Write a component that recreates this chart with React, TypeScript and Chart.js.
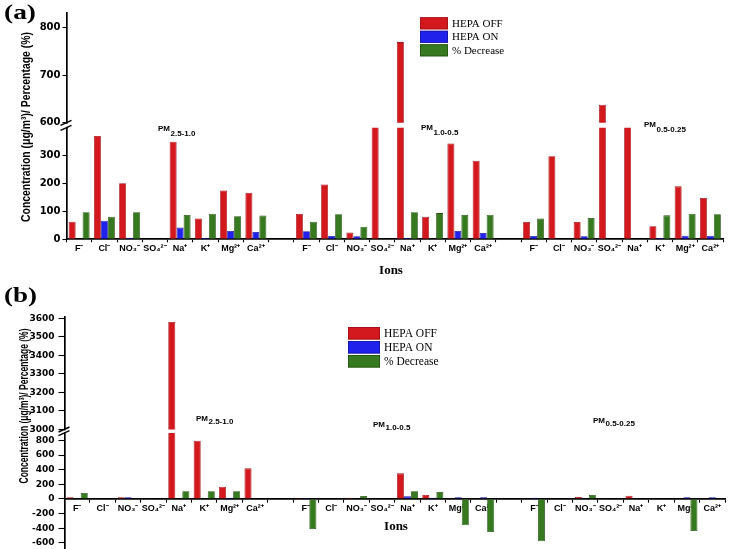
import React, { useEffect, useRef } from 'react';
import { Chart, registerables } from 'chart.js';

Chart.register(...registerables);

const SANS = "'Liberation Sans', Arial, sans-serif";
const WIDE_SANS = "'DejaVu Sans', 'Liberation Sans', sans-serif";
const SERIF = "'Liberation Serif', 'Times New Roman', serif";

// ---------- categories / labels ----------
const IONS = ['F⁻', 'Cl⁻', 'NO₃⁻', 'SO₄²⁻', 'Na⁺', 'K⁺', 'Mg²⁺', 'Ca²⁺'];
const GAP = '';
const CATEGORIES = [...IONS, GAP, ...IONS, GAP, ...IONS];
const FRACTIONS = ['2.5-1.0', '1.0-0.5', '0.5-0.25'];
const SERIES_LABELS = ['HEPA OFF', 'HEPA ON', '% Decrease'];
const SERIES_FILL = ['#D3181E', '#2121EC', '#36791E'];
const SERIES_EDGE = ['#A01016', '#16169E', '#245313'];
const Y_TITLE = 'Concentration (μg/m³)/ Percentage (%)';
const X_TITLE = 'Ions';

// ---------- panel (a) values ----------
const A_OFF_PM25_10 = [63, 371, 201, 0, 350, 75, 175, 167];
const A_OFF_PM10_05 = [91, 197, 24, 590, 769, 81, 344, 282];
const A_OFF_PM05_025 = [62, 298, 62, 638, 590, 47, 190, 148];
const A_ON_PM25_10 = [0, 67, 6, 0, 42, 5, 30, 26];
const A_ON_PM10_05 = [29, 12, 11, 0, 5, 0, 30, 23];
const A_ON_PM05_025 = [12, 0, 11, 0, 0, 5, 13, 13];
const A_DEC_PM25_10 = [97, 81, 97, 0, 87, 92, 83, 85];
const A_DEC_PM10_05 = [63, 90, 45, 0, 97, 94, 87, 88];
const A_DEC_PM05_025 = [75, 0, 77, 0, 0, 86, 92, 90];
const A_TICKS_LOW = [0, 100, 200, 300];
const A_TICKS_HIGH = [600, 700, 800];

// ---------- panel (b) values ----------
const B_OFF_PM25_10 = [23, 9, 22, 9, 3580, 795, 168, 418];
const B_OFF_PM10_05 = [14, 9, 18, 9, 350, 55, 9, 9];
const B_OFF_PM05_025 = [9, 9, 27, 9, 45, 9, 9, 9];
const B_ON_PM25_10 = [5, 5, 22, 5, 5, 5, 18, 5];
const B_ON_PM10_05 = [14, 9, 9, 9, 36, 18, 23, 23];
const B_ON_PM05_025 = [18, 9, 9, 9, 9, 9, 23, 23];
const B_DEC_PM25_10 = [82, 5, 5, 5, 105, 105, 105, 5];
const B_DEC_PM10_05 = [-409, 5, 41, 5, 105, 95, -359, -450];
const B_DEC_PM05_025 = [-577, 5, 55, 5, 5, 5, -436, 5];
const B_TICKS_LOW = [-600, -400, -200, 0, 200, 400, 600, 800];
const B_TICKS_HIGH = [3000, 3100, 3200, 3300, 3400, 3500, 3600];

const joinFractions = (a: number[], b: number[], c: number[]) => [...a, null, ...b, null, ...c];

const CANVAS_W = 733;
const CANVAS_H = 560;

const PANELS = [
  {
    tag: '(a)', tagX: 4, tagBase: 19, tagW: 32,
    series: [
      joinFractions(A_OFF_PM25_10, A_OFF_PM10_05, A_OFF_PM05_025),
      joinFractions(A_ON_PM25_10, A_ON_PM10_05, A_ON_PM05_025),
      joinFractions(A_DEC_PM25_10, A_DEC_PM10_05, A_DEC_PM05_025),
    ],
    low: { min: 0, max: 409.6, ticks: A_TICKS_LOW, weight: 114.15, brk: 400 },
    high: { min: 595.1, max: 830.6, ticks: A_TICKS_HIGH, weight: 112.45, brk: 600 },
    padding: { left: 0, right: 10, top: 12.7, bottom: CANVAS_H - 282 },
    yWidth: 66.5, xHeight: 42.7, xAtZero: false, yTickSize: 10, yTickLen: 4, yTickPad: 2,
    yTitle: { x: 27, y: 127, len: 190, size: 12 },
    xTitle: { x: 391, y: 271 },
    pm: [[158, 128.7], [421, 128.2], [644, 125.2]], pmDy: 5,
    legend: { x: 420, w: 28, tops: [17.3, 30.8, 44.3], h: 12, textX: 452, size: 11 },
  },
  {
    tag: '(b)', tagX: 4, tagBase: 302, tagW: 33,
    series: [
      joinFractions(B_OFF_PM25_10, B_OFF_PM10_05, B_OFF_PM05_025),
      joinFractions(B_ON_PM25_10, B_ON_PM10_05, B_ON_PM05_025),
      joinFractions(B_DEC_PM25_10, B_DEC_PM10_05, B_DEC_PM05_025),
    ],
    low: { min: -700, max: 922, ticks: B_TICKS_LOW, weight: 118.9, brk: 900 },
    high: { min: 2989.7, max: 3610, ticks: B_TICKS_HIGH, weight: 114.9, brk: 3000 },
    padding: { left: 0, right: 8, top: 316.5, bottom: CANVAS_H - 550.3 },
    yWidth: 64.5, xHeight: 0, xAtZero: true, yTickSize: 9, yTickLen: 6, yTickPad: 4,
    yTitle: { x: 25, y: 406, len: 155, size: 12 },
    xTitle: { x: 396, y: 527 },
    pm: [[196, 418.7], [373, 424.5], [593, 420.5]], pmDy: 3.5,
    legend: { x: 348, w: 32, tops: [327, 341, 355], h: 12.5, textX: 384, size: 11.5 },
  },
];

function drawFit(ctx: any, text: string, x: number, y: number, font: string, width: number, align: string, rotate: boolean, baseline = 'middle') {
  ctx.save();
  ctx.font = font;
  const w = ctx.measureText(text).width;
  ctx.translate(x, y);
  if (rotate) ctx.rotate(-Math.PI / 2);
  ctx.scale(width / w, 1);
  ctx.textAlign = align;
  ctx.textBaseline = baseline;
  ctx.fillStyle = '#000';
  ctx.fillText(text, 0, 0);
  ctx.restore();
}

function makeDecor(panel: any) {
  return {
    id: 'panelDecor',
    beforeDatasetDraw(chart: any, args: any) {
      const { ctx, chartArea } = chart;
      const meta = args.meta;
      const ys = chart.scales[meta.yAxisID];
      ctx.save();
      ctx.beginPath();
      if (meta.yAxisID === 'yLow') {
        const top = ys.getPixelForValue(panel.low.brk);
        ctx.rect(chartArea.left, top, chartArea.right - chartArea.left, ys.bottom - top);
      } else {
        const bottom = ys.getPixelForValue(panel.high.brk);
        ctx.rect(chartArea.left, ys.top - 1, chartArea.right - chartArea.left, bottom - ys.top + 1);
      }
      ctx.clip();
    },
    afterDatasetDraw(chart: any) {
      chart.ctx.restore();
    },
    afterDraw(chart: any) {
      const { ctx, chartArea } = chart;
      const ax = chartArea.left;
      const yHi = chart.scales.yHigh.getPixelForValue(panel.high.brk);
      const yLo = chart.scales.yLow.getPixelForValue(panel.low.brk);
      ctx.save();
      ctx.fillStyle = '#fff';
      ctx.fillRect(ax - 3, yHi + 0.9, 6, yLo - yHi - 1.8);
      ctx.strokeStyle = '#000';
      ctx.lineWidth = 1.4;
      for (const yy of [yHi, yLo]) {
        ctx.beginPath();
        ctx.moveTo(ax - 6, yy + 2.5);
        ctx.lineTo(ax + 5, yy - 2.5);
        ctx.stroke();
      }
      ctx.restore();

      // panel tag
      drawFit(ctx, panel.tag, panel.tagX, panel.tagBase, `bold 21px ${SERIF}`, panel.tagW, 'left', false, 'alphabetic');
      // y title
      drawFit(ctx, Y_TITLE, panel.yTitle.x, panel.yTitle.y, `bold ${panel.yTitle.size}px ${SANS}`, panel.yTitle.len, 'center', true);
      // x title
      ctx.save();
      ctx.font = `bold 13px ${SERIF}`;
      ctx.fillStyle = '#000';
      ctx.textAlign = 'center';
      ctx.textBaseline = 'middle';
      ctx.fillText(X_TITLE, panel.xTitle.x, panel.xTitle.y);
      ctx.restore();

      // PM labels
      ctx.save();
      ctx.fillStyle = '#000';
      ctx.textBaseline = 'middle';
      ctx.textAlign = 'left';
      panel.pm.forEach((p: number[], i: number) => {
        ctx.font = `bold 8px ${SANS}`;
        ctx.fillText('PM', p[0], p[1]);
        const w = ctx.measureText('PM').width;
        ctx.fillText(FRACTIONS[i], p[0] + w + 0.5, p[1] + panel.pmDy);
      });
      ctx.restore();

      // legend
      const lg = panel.legend;
      ctx.save();
      SERIES_LABELS.forEach((label, i) => {
        const top = lg.tops[i];
        ctx.fillStyle = SERIES_FILL[i];
        ctx.fillRect(lg.x, top, lg.w, lg.h);
        ctx.strokeStyle = SERIES_EDGE[i];
        ctx.lineWidth = 0.8;
        ctx.strokeRect(lg.x + 0.4, top + 0.4, lg.w - 0.8, lg.h - 0.8);
        ctx.fillStyle = '#000';
        ctx.font = `${lg.size}px ${SERIF}`;
        ctx.textAlign = 'left';
        ctx.textBaseline = 'middle';
        ctx.fillText(label, lg.textX, top + lg.h / 2 + 0.5);
      });
      ctx.restore();
    },
  };
}

function buildConfig(panel: any) {
  const datasets: any[] = [];
  for (const axis of ['yLow', 'yHigh']) {
    SERIES_LABELS.forEach((label, i) => {
      datasets.push({
        label,
        data: panel.series[i],
        yAxisID: axis,
        stack: 's' + i,
        backgroundColor: SERIES_FILL[i],
        borderColor: SERIES_EDGE[i],
        borderWidth: 0.8,
        barPercentage: 1,
        categoryPercentage: 0.83,
      });
    });
  }
  const grid = {
    display: true, drawOnChartArea: false, drawTicks: true,
    tickLength: panel.yTickLen, tickColor: '#000', tickWidth: 1.1,
  };
  const border = { display: true, color: '#000', width: 1.7 };
  const yTicks = {
    color: '#000', padding: panel.yTickPad, autoSkip: false,
    font: { family: WIDE_SANS, weight: 'bold', size: panel.yTickSize },
    callback: (v: any) => String(v),
  };
  const yScale = (part: any) => ({
    type: 'linear', position: 'left', stack: 'panel', stackWeight: part.weight,
    min: part.min, max: part.max, bounds: 'data', stacked: false,
    grid, border, ticks: yTicks,
    afterBuildTicks: (s: any) => { s.ticks = part.ticks.map((v: number) => ({ value: v })); },
    afterFit: (s: any) => { s.width = panel.yWidth; s.paddingTop = 0; s.paddingBottom = 0; },
  });
  return {
    type: 'bar',
    data: { labels: CATEGORIES, datasets },
    plugins: [makeDecor(panel)],
    options: {
      responsive: false,
      animation: false,
      devicePixelRatio: 1,
      events: [],
      layout: { padding: panel.padding },
      plugins: { legend: { display: false }, tooltip: { enabled: false }, title: { display: false } },
      scales: {
        x: {
          type: 'category', offset: true,
          position: panel.xAtZero ? { yLow: 0 } : 'bottom',
          grid: { ...grid, tickLength: 3 },
          border,
          ticks: {
            autoSkip: false, maxRotation: 0, minRotation: 0, padding: 1, color: '#000',
            font: { family: SANS, weight: 'bold', size: 9 },
          },
          afterFit: (s: any) => {
            if (!panel.xAtZero) s.height = panel.xHeight;
            s.paddingLeft = 0; s.paddingRight = 0;
          },
        },
        yLow: yScale(panel.low),
        yHigh: yScale(panel.high),
      },
    },
  };
}

export default function App() {
  const refA = useRef<HTMLCanvasElement>(null);
  const refB = useRef<HTMLCanvasElement>(null);
  useEffect(() => {
    const charts: Chart[] = [];
    [refA, refB].forEach((ref, i) => {
      if (ref.current) charts.push(new Chart(ref.current, buildConfig(PANELS[i]) as any));
    });
    return () => charts.forEach((c) => c.destroy());
  }, []);
  const canvasStyle: React.CSSProperties = {
    position: 'absolute', left: 0, top: 0, width: CANVAS_W, height: CANVAS_H, display: 'block',
  };
  return (
    <div style={{ position: 'fixed', left: 0, top: 0, width: 733, height: 549, overflow: 'hidden', background: '#fff' }}>
      <canvas ref={refA} width={CANVAS_W} height={CANVAS_H} style={canvasStyle} />
      <canvas ref={refB} width={CANVAS_W} height={CANVAS_H} style={canvasStyle} />
    </div>
  );
}
